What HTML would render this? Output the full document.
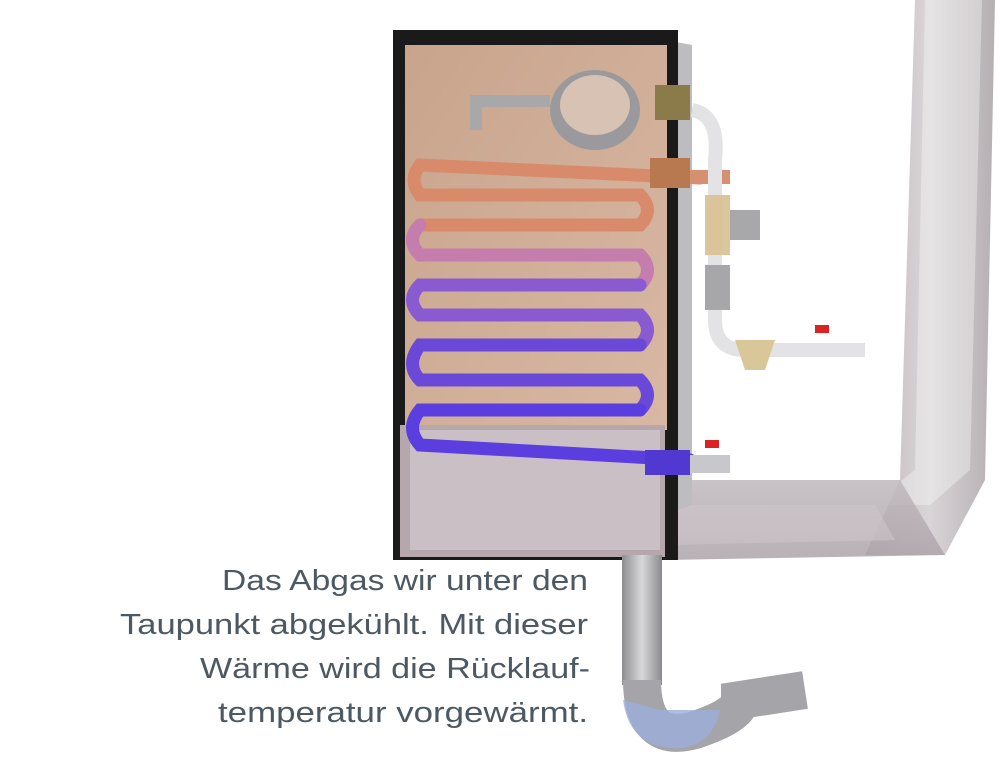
<!DOCTYPE html>
<html><head><meta charset="utf-8"><style>
html,body{margin:0;padding:0;background:#fff;}
svg{display:block;}
</style></head><body>
<svg width="1000" height="771" viewBox="0 0 1000 771" xmlns="http://www.w3.org/2000/svg">
<defs>
<linearGradient id="duct" x1="0" y1="0" x2="1" y2="0">
<stop offset="0" stop-color="#b3acb0"/><stop offset="0.5" stop-color="#d3cdd0"/><stop offset="1" stop-color="#a8a1a5"/>
</linearGradient>
<linearGradient id="ducth" x1="0" y1="0" x2="0" y2="1">
<stop offset="0" stop-color="#c0b8bc"/><stop offset="1" stop-color="#aca3a8"/>
</linearGradient>
<linearGradient id="copper" x1="0" y1="0" x2="1" y2="1">
<stop offset="0" stop-color="#c9a48c"/><stop offset="1" stop-color="#d8b8a4"/>
</linearGradient>
<linearGradient id="pipe" x1="0" y1="0" x2="1" y2="0">
<stop offset="0" stop-color="#8f8f93"/><stop offset="0.5" stop-color="#d8d8da"/><stop offset="1" stop-color="#8a8a8e"/>
</linearGradient>
</defs>

<polygon points="915,0 995,0 985,480 945,555 865,555 900,480" fill="url(#duct)" opacity="0.85"/>
<polygon points="925,0 982,0 970,470 930,505 870,505 915,470" fill="#ffffff" opacity="0.35"/>
<polygon points="665,480 900,480 945,555 665,560" fill="url(#ducth)" opacity="0.85"/>
<polygon points="665,505 875,505 895,540 665,545" fill="#cdc5c9" opacity="0.6"/>

<polygon points="665,40 692,45 692,505 665,515" fill="#bdbdbf"/>
<rect x="393" y="30" width="285" height="530" fill="#1a1a1a"/>
<rect x="405" y="45" width="262" height="385" fill="url(#copper)"/>
<rect x="400" y="425" width="265" height="132" fill="#b6a7ad"/>
<rect x="410" y="430" width="250" height="120" fill="#cabfc4"/>

<ellipse cx="595" cy="110" rx="45" ry="40" fill="#9a9a9e"/>
<ellipse cx="595" cy="105" rx="35" ry="30" fill="#d7c2b3"/>
<rect x="470" y="95" width="80" height="12" fill="#a8a8ab"/>
<rect x="470" y="95" width="12" height="35" fill="#a8a8ab"/>

<g fill="none" stroke-width="13" stroke-linecap="round">
<path d="M700,178 L420,165 Q408,180 420,195 L640,195 Q655,210 640,225 L420,225" stroke="#d88a6a"/>
<path d="M420,225 Q405,240 420,255 L640,255 Q655,270 640,285" stroke="#c47dac"/>
<path d="M640,285 L420,285 Q405,300 420,315 L640,315 Q655,330 640,345" stroke="#8a5ad0"/>
<path d="M640,345 L420,345 Q405,365 420,380 L640,380 Q655,395 640,410" stroke="#6a48d8"/>
<path d="M640,410 L420,410 Q405,428 420,445 L690,460" stroke="#5a3ee0"/>
</g>
<rect x="645" y="450" width="45" height="25" fill="#5038d0"/>
<rect x="690" y="455" width="40" height="18" fill="#c8c8cc"/>
<rect x="705" y="440" width="14" height="8" fill="#d22"/>

<rect x="655" y="85" width="35" height="35" fill="#8b7a4a"/>
<rect x="650" y="158" width="40" height="30" fill="#b87850"/>
<rect x="690" y="170" width="40" height="14" fill="#d59070"/>

<path d="M692,110 Q720,115 715,160 L715,320 Q715,350 745,350 L865,350" fill="none" stroke="#e3e3e5" stroke-width="14"/>
<rect x="705" y="195" width="25" height="60" fill="#d8c090" opacity="0.9"/>
<rect x="730" y="210" width="30" height="30" fill="#a8a8ab"/>
<rect x="705" y="265" width="25" height="45" fill="#a7a7aa"/>
<polygon points="735,340 775,340 765,370 745,370" fill="#d9c79a"/>
<rect x="815" y="325" width="14" height="8" fill="#d22"/>

<rect x="622" y="555" width="40" height="130" fill="url(#pipe)"/>
<path d="M642,680 Q642,745 695,730 Q740,715 740,700 L805,690" fill="none" stroke="#a5a5a9" stroke-width="38"/>
<path d="M623,700 Q630,750 680,748 Q712,745 720,710 L660,710 Z" fill="#9eaedc" opacity="0.8"/>

<g font-family="'Liberation Sans', sans-serif" font-size="29" fill="#4c5962" text-anchor="end">
<text x="588" y="590" textLength="366" lengthAdjust="spacingAndGlyphs">Das Abgas wir unter den</text>
<text x="588" y="634" textLength="468" lengthAdjust="spacingAndGlyphs">Taupunkt abgekühlt. Mit dieser</text>
<text x="590" y="678" textLength="390" lengthAdjust="spacingAndGlyphs">Wärme wird die Rücklauf-</text>
<text x="588" y="722" textLength="370" lengthAdjust="spacingAndGlyphs">temperatur vorgewärmt.</text>
</g>
</svg>
</body></html>
